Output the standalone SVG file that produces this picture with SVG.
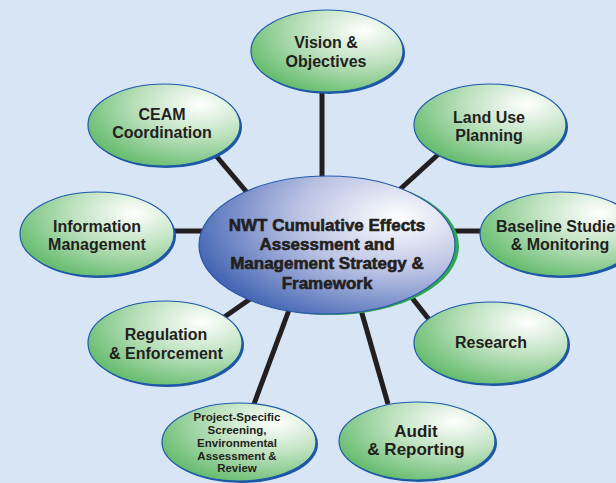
<svg xmlns="http://www.w3.org/2000/svg" width="616" height="483" viewBox="0 0 616 483">
<defs>
<radialGradient id="gn" cx="0.74" cy="0.25" r="0.9" fx="0.74" fy="0.25">
<stop offset="0" stop-color="#ffffff"/>
<stop offset="0.45" stop-color="#bde1be"/>
<stop offset="1" stop-color="#58b662"/>
</radialGradient>
<radialGradient id="bl" cx="0.78" cy="0.3" r="0.9" fx="0.78" fy="0.3">
<stop offset="0" stop-color="#ffffff"/>
<stop offset="0.45" stop-color="#b9c1e3"/>
<stop offset="1" stop-color="#3257ad"/>
</radialGradient>
<style>
.sh{fill:#1d57a5}
.nd{fill:url(#gn);stroke:#1d5aa8;stroke-width:1.2}
.t{font-family:"Liberation Sans",Arial,sans-serif;font-weight:bold;fill:#231f20;text-anchor:middle;font-size:16px}
.s{font-size:11.5px}
.c{font-size:17px;stroke:#231f20;stroke-width:0.6}
.ln{stroke:#231f20;stroke-width:5;stroke-linecap:butt;fill:none}
</style>
</defs>
<rect width="616" height="483" fill="#d7e5f5"/>
<g id="connectors">
<line class="ln" x1="322" y1="90" x2="322" y2="178"/>
<line class="ln" x1="212" y1="151" x2="250" y2="196"/>
<line class="ln" x1="442" y1="151" x2="397" y2="192"/>
<line class="ln" x1="172" y1="231" x2="202" y2="231"/>
<line class="ln" x1="453" y1="231" x2="485" y2="231"/>
<line class="ln" x1="220" y1="320" x2="253" y2="297"/>
<line class="ln" x1="289" y1="310" x2="254" y2="404"/>
<line class="ln" x1="409" y1="294" x2="431" y2="322"/>
<line class="ln" x1="361" y1="310" x2="388" y2="404"/>
</g>
<g id="center">
<ellipse cx="331" cy="246" rx="128" ry="69" fill="#2ea84e"/>
<ellipse cx="327" cy="245" rx="128" ry="69" fill="url(#bl)" stroke="#2b58ad" stroke-width="1.2"/>
<text class="t c" x="327" y="231">NWT Cumulative Effects</text>
<text class="t c" x="327" y="250">Assessment and</text>
<text class="t c" x="327" y="269">Management Strategy &amp;</text>
<text class="t c" x="327" y="289">Framework</text>
</g>
<g id="vision">
<ellipse class="sh" cx="329" cy="53" rx="76" ry="41"/>
<ellipse class="nd" cx="327" cy="51" rx="76" ry="41"/>
<text class="t" x="326" y="48">Vision &amp;</text>
<text class="t" x="326" y="67">Objectives</text>
</g>
<g id="ceam">
<ellipse class="sh" cx="166" cy="127" rx="76" ry="41"/>
<ellipse class="nd" cx="164" cy="125" rx="76" ry="41"/>
<text class="t" x="162" y="120">CEAM</text>
<text class="t" x="162" y="138">Coordination</text>
</g>
<g id="landuse">
<ellipse class="sh" cx="492" cy="127" rx="76" ry="41"/>
<ellipse class="nd" cx="490" cy="125" rx="76" ry="41"/>
<text class="t" x="489" y="123">Land Use</text>
<text class="t" x="489" y="141">Planning</text>
</g>
<g id="info">
<ellipse class="sh" cx="99" cy="236" rx="77" ry="42"/>
<ellipse class="nd" cx="97" cy="234" rx="77" ry="42"/>
<text class="t" x="97" y="232">Information</text>
<text class="t" x="97" y="250">Management</text>
</g>
<g id="baseline">
<ellipse class="sh" cx="562" cy="236" rx="80" ry="42"/>
<ellipse class="nd" cx="560" cy="234" rx="80" ry="42"/>
<text class="t" x="560" y="232">Baseline Studies</text>
<text class="t" x="560" y="250">&amp; Monitoring</text>
</g>
<g id="regulation">
<ellipse class="sh" cx="167" cy="345" rx="77" ry="42"/>
<ellipse class="nd" cx="165" cy="343" rx="77" ry="42"/>
<text class="t" x="166" y="340">Regulation</text>
<text class="t" x="166" y="359">&amp; Enforcement</text>
</g>
<g id="research">
<ellipse class="sh" cx="493" cy="345" rx="77" ry="41"/>
<ellipse class="nd" cx="491" cy="343" rx="77" ry="41"/>
<text class="t" x="491" y="348">Research</text>
</g>
<g id="project">
<ellipse class="sh" cx="241" cy="444" rx="77" ry="39"/>
<ellipse class="nd" cx="239" cy="442" rx="77" ry="39"/>
<text class="t s" x="237" y="421">Project-Specific</text>
<text class="t s" x="237" y="434">Screening,</text>
<text class="t s" x="237" y="447">Environmental</text>
<text class="t s" x="237" y="460">Assessment &amp;</text>
<text class="t s" x="237" y="472">Review</text>
</g>
<g id="audit">
<ellipse class="sh" cx="419" cy="443" rx="78" ry="39"/>
<ellipse class="nd" cx="417" cy="441" rx="78" ry="39"/>
<text class="t" x="416" y="437" style="font-size:17px">Audit</text>
<text class="t" x="416" y="455" style="font-size:17px">&amp; Reporting</text>
</g>
</svg>
